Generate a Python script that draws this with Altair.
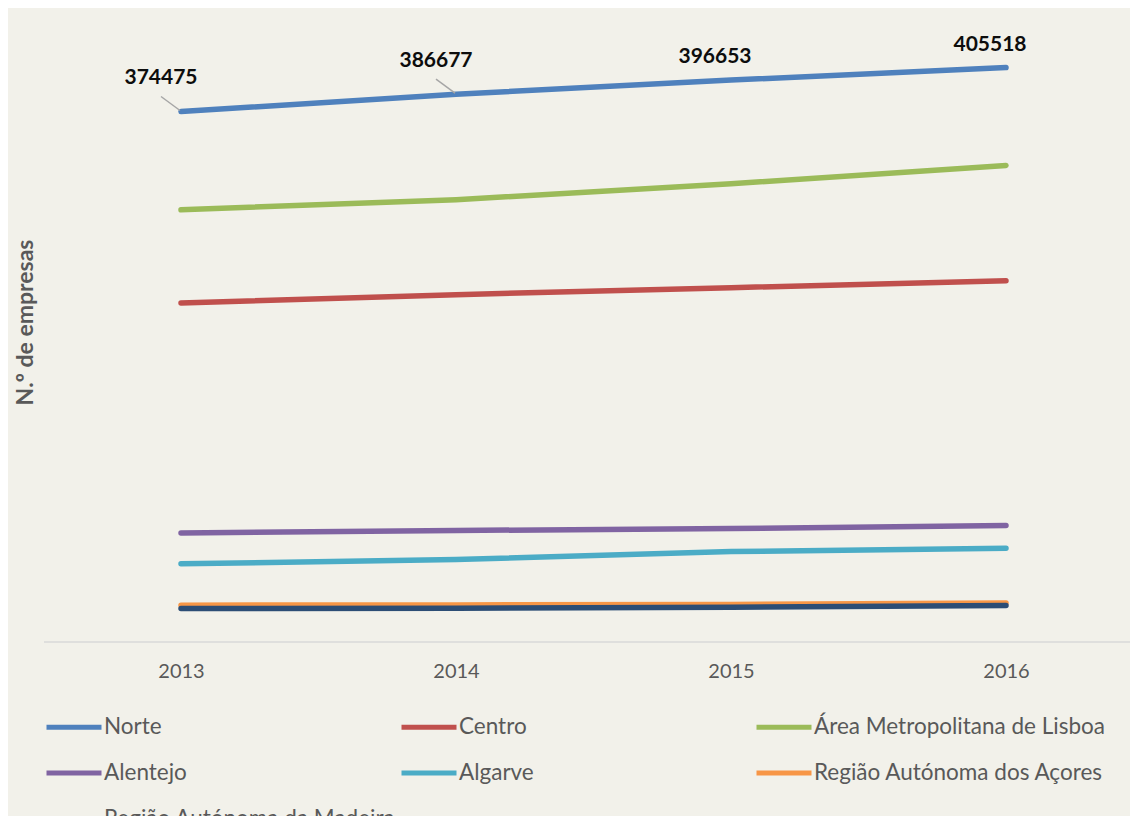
import altair as alt
import pandas as pd

years = [2013, 2014, 2015, 2016]
regions = ["Norte", "Centro", "Área Metropolitana de Lisboa", "Alentejo",
           "Algarve", "Região Autónoma dos Açores", "Região Autónoma da Madeira"]
norte = [374475, 386677, 396653, 405518]
centro = [239300, 245200, 250100, 255000]
lisboa = [305100, 312200, 323500, 336400]
alentejo = [77000, 78700, 80100, 82200]
algarve = [55200, 58200, 63800, 66200]
acores = [26000, 26200, 26500, 27500]
madeira = [23600, 23900, 24500, 25700]
series = [norte, centro, lisboa, alentejo, algarve, acores, madeira]
colors = ["#4F81BD", "#C0504D", "#9BBB59", "#8064A2", "#4BACC6", "#F79646", "#2C4D75"]
leader_years = [2013, 2014]

rows = []
for reg, vals in zip(regions, series):
    for yr, v in zip(years, vals):
        rows.append({"region": reg, "year": yr, "value": v})
df = pd.DataFrame(rows)
norte_df = pd.DataFrame({"year": years, "value": norte})
norte_df["leader"] = norte_df["year"].isin(leader_years)

FONT = "Lato"
W, H = 1086, 595

x_scale = alt.Scale(domain=[2012.5018, 2016.4509], nice=False, zero=False)
x_enc = alt.X("year:Q", scale=x_scale,
              axis=alt.Axis(values=years, format="d", domain=False, ticks=False, grid=False,
                            labelAngle=0, labelFlush=False,
                            labelFont=FONT, labelFontSize=20, labelColor="#595959",
                            labelPadding=19, title=None))
y_scale = alt.Scale(domain=[0, 420000], nice=False, zero=True)
y_enc = alt.Y("value:Q", scale=y_scale,
              axis=alt.Axis(labels=False, ticks=False, domain=False, grid=False,
                            title="N.º de empresas", titleFont=FONT, titleFontSize=23,
                            titleFontWeight="bold", titleColor="#595959",
                            titleX=-7, titleY=275))

baseline = alt.Chart(pd.DataFrame({"value": [0]})).mark_rule(
    color="#D9D9D9", strokeWidth=1.5
).encode(y=alt.Y("value:Q", scale=y_scale), x=alt.value(0), x2=alt.value(W))

lines = alt.Chart(df).mark_line(strokeWidth=5.5, strokeCap="round", strokeJoin="round").encode(
    x=x_enc,
    y=y_enc,
    color=alt.Color("region:N", sort=regions,
                    scale=alt.Scale(domain=regions, range=colors),
                    legend=alt.Legend(orient="none", legendX=0, legendY=650, columns=3,
                                      direction="horizontal",
                                      gridAlign="all", columnPadding=-5, rowPadding=4,
                                      symbolType="stroke", symbolSize=3025,
                                      symbolStrokeWidth=5, labelFont=FONT,
                                      labelFontSize=22.5, labelColor="#595959",
                                      labelOffset=0, labelLimit=500, title=None)),
    order=alt.Order("year:Q"),
)

leaders = alt.Chart(norte_df).transform_filter("datum.leader").mark_rule(
    color="#A6A6A6", strokeWidth=1.5, xOffset=-20, yOffset=-15, x2Offset=-1, y2Offset=-1
).encode(x=alt.X("year:Q", scale=x_scale), x2="year:Q", y="value:Q", y2="value:Q")

labels_lead = alt.Chart(norte_df).transform_filter("datum.leader").mark_text(
    font=FONT, fontSize=21, fontWeight="bold", color="#0D0D0D", dx=-20, dy=-33
).encode(x=alt.X("year:Q", scale=x_scale), y="value:Q", text="value:Q")

labels_other = alt.Chart(norte_df).transform_filter("!datum.leader").mark_text(
    font=FONT, fontSize=21, fontWeight="bold", color="#0D0D0D", dx=-16, dy=-23
).encode(x=alt.X("year:Q", scale=x_scale), y="value:Q", text="value:Q")

chart = alt.layer(baseline, lines, leaders, labels_lead, labels_other).properties(
    width=W, height=H, background="#F2F1EA",
    padding={"left": 36, "top": 39, "right": 0, "bottom": 174},
    autosize=alt.AutoSizeParams(type="none"),
).configure_view(stroke=None)

chart.save("out.html", embed_options={"renderer": "svg", "actions": False})
